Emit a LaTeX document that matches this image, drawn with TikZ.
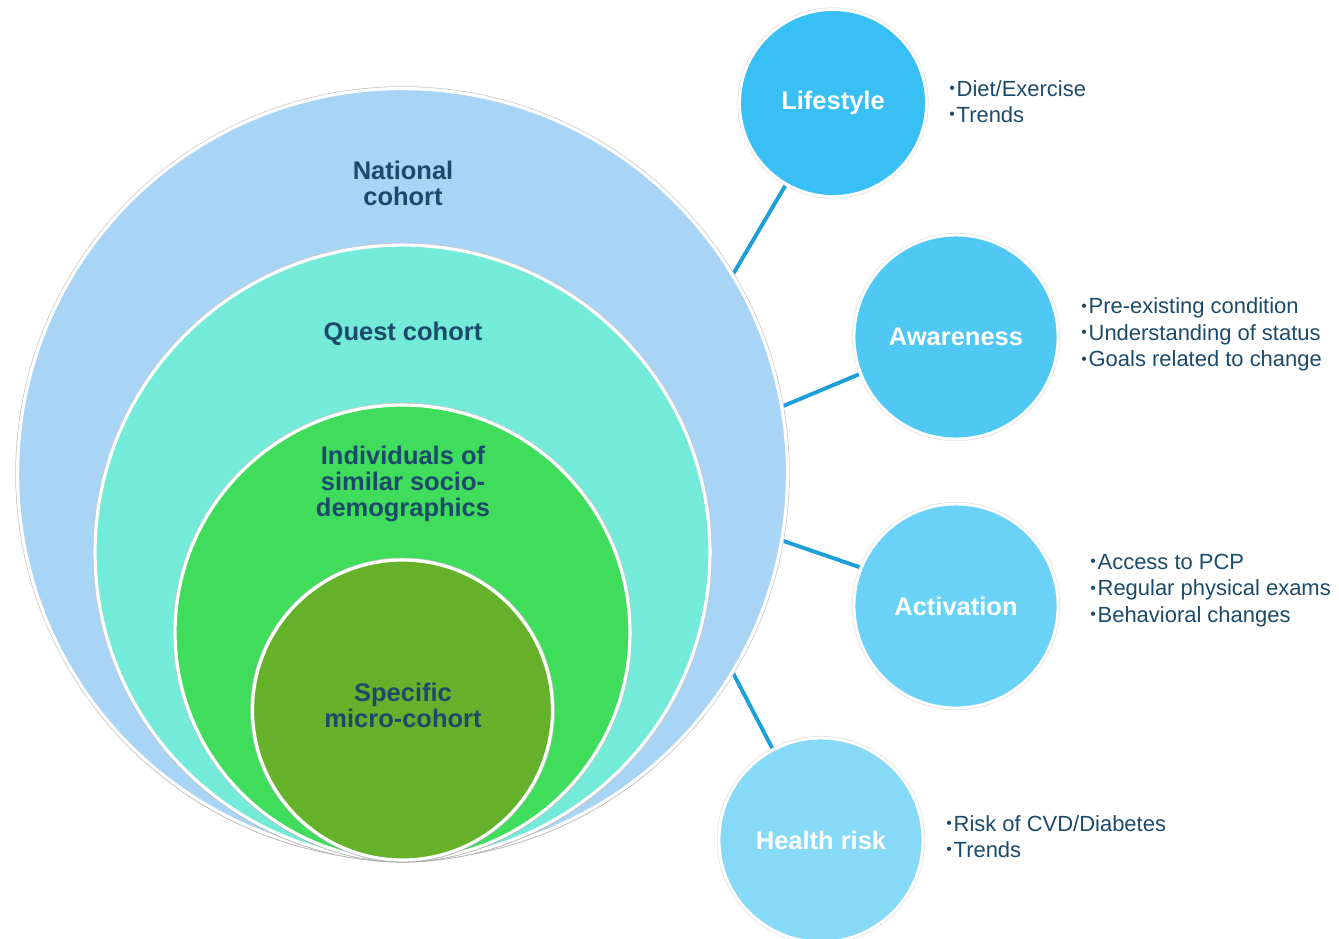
\documentclass[tikz,border=0pt]{standalone}
\usepackage{fontspec}
\setmainfont{Liberation Sans}
\usetikzlibrary{shadows,backgrounds}

\definecolor{nationalblue}{HTML}{A8D4F6}
\definecolor{questaqua}{HTML}{74EAD8}
\definecolor{simgreen}{HTML}{40DC5C}
\definecolor{microgreen}{HTML}{65B22A}
\definecolor{labelnavy}{HTML}{1B4A6B}
\definecolor{linkblue}{HTML}{1A9FDA}
\definecolor{lifeblue}{HTML}{38C0F4}
\definecolor{awareblue}{HTML}{4FC9F3}
\definecolor{activeblue}{HTML}{6AD2F6}
\definecolor{riskblue}{HTML}{86DAF8}

% small bullet in front of each note line
\newcommand{\bul}{\raisebox{0.12em}{\fontsize{9}{9}\selectfont\textbullet}\hspace{1pt}}

\tikzset{
  cohort/.style={circle, inner sep=0pt, outer sep=0pt, draw=white, line width=1.8pt,
    preaction={draw=black!22, line width=2.6pt},
    drop shadow={shadow xshift=0pt, shadow yshift=-1.5pt, opacity=0.3}},
  cohortlabel/.style={text=labelnavy, align=center, font=\fontsize{14.5}{14.8}\selectfont\bfseries},
  bubble/.style={circle, inner sep=0pt, outer sep=0pt, draw=white, line width=1.6pt,
    preaction={draw=black!12, line width=2.4pt}, text=white,
    font=\fontsize{14.5}{16}\selectfont\bfseries},
  notes/.style={anchor=west, align=left, text=labelnavy, inner sep=0pt,
    font=\fontsize{12.5}{15.1}\selectfont},
  link/.style={draw=linkblue, line width=2.2pt}
}

\begin{document}
\begin{tikzpicture}[x=0.02cm,y=-0.02cm]
    \useasboundingbox (0,0) rectangle (1339,938);

    % Nested cohorts, all touching at the bottom
    \node[cohort, fill=nationalblue, minimum size=15.4cm] (national) at (402.5,473.5) {};
    \node[cohort, fill=questaqua, minimum size=12.3cm] (quest) at (402.5,552.5) {};
    \node[cohort, fill=simgreen, minimum size=9.1cm] (similar) at (402.5,632.5) {};
    \node[cohort, fill=microgreen, minimum size=6.0cm] (micro) at (402.5,710) {};

    \node[cohortlabel] (national-text) at (403,183) {National\\cohort};
    \node[cohortlabel] (quest-text) at (403,334) {Quest cohort};
    \node[cohortlabel] (similar-text) at (403,484) {Individuals of\\similar socio-\\demographics};
    \node[cohortlabel] (micro-text) at (403,705) {Specific\\micro-cohort};

    % Dimension bubbles
    \node[bubble, fill=lifeblue, minimum size=3.74cm] (lifestyle) at (833,103) {Lifestyle};
    \node[bubble, fill=awareblue, minimum size=4.08cm] (awareness) at (956,337) {Awareness};
    \node[bubble, fill=activeblue, minimum size=4.08cm] (activation) at (956,606) {Activation};
    \node[bubble, fill=riskblue, minimum size=4.08cm] (healthrisk) at (821,840) {Health risk};

    % Connectors, kept under the circles
    \begin{scope}[on background layer]
        \foreach \b/\a/\c in {lifestyle/240/31, awareness/201/10,
                              activation/158/-10, healthrisk/118/-31}
            \draw[link] (\b.\a) -- (national.\c);
    \end{scope}

    % Notes beside each bubble
    \node[notes] (lifestyle-notes) at (949,101.5) {\bul Diet/Exercise\\\bul Trends};
    \node[notes] (awareness-notes) at (1081,334.5)
        {\bul Pre-existing condition\\\bul Understanding of status\\\bul Goals related to change};
    \node[notes] (activation-notes) at (1090,590.5)
        {\bul Access to PCP\\\bul Regular physical exams\\\bul Behavioral changes};
    \node[notes] (healthrisk-notes) at (946,836.5) {\bul Risk of CVD/Diabetes\\\bul Trends};
\end{tikzpicture}
\end{document}
